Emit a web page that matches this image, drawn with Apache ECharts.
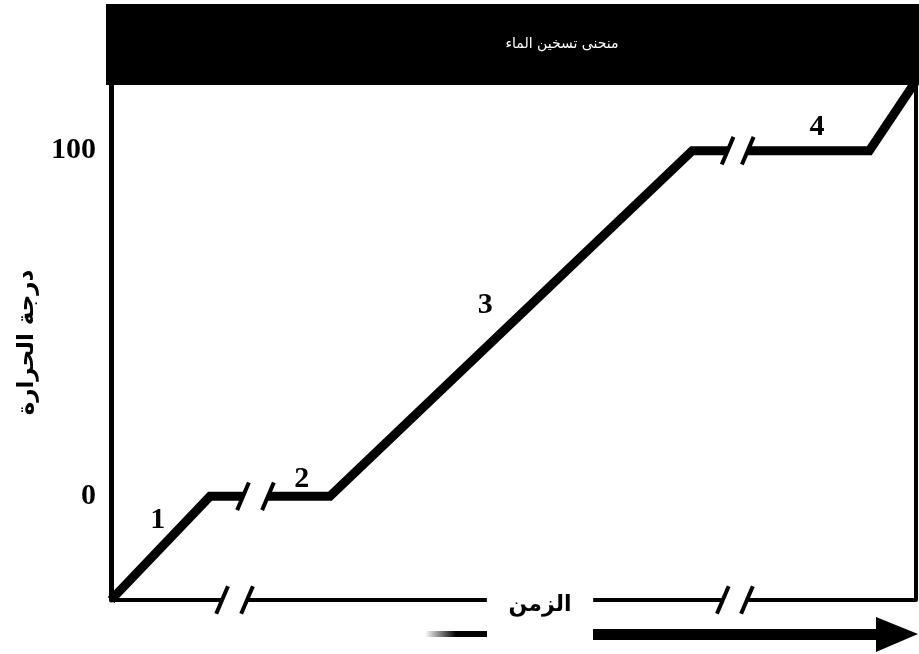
<!DOCTYPE html>
<html>
<head>
<meta charset="utf-8">
<script src="https://cdn.jsdelivr.net/npm/echarts@6/dist/echarts.min.js"></script>
<style>
html,body{margin:0;padding:0;background:#fff}
#chart{width:919px;height:654px}
</style>
</head>
<body>
<div id="chart"></div>
<script>
// منحنى تسخين الماء : [الزمن, درجة الحرارة]
var curveSegments = [
	[[0, -30], [12.3, 0], [16.4, 0]],
	[[19.5, 0], [27.2, 0], [72.2, 100], [76.6, 100]],
	[[79.1, 100], [94.2, 100], [100, 120.2]]
];
// محور الزمن (مقطوع)
var axisSegments = [[0, 13.8], [16.9, 46.7], [59.9, 76.0], [79.0, 100]];
var curveBreaks = [[16.4, 0], [19.5, 0], [76.6, 100], [79.1, 100]];
var axisBreaks = [[13.8, -30], [16.9, -30], [76.0, -30], [79.0, -30]];
var yTicks = [0, 100];
var phaseNames = ['1', '2', '3', '4'];
var phasePos = [[5.8, -6.9], [23.7, 5.0], [46.5, 55.4], [87.7, 106.9]];

var yMin = -30, yMax = 119;

var series = [];
//曲线
for (var i = 0; i < curveSegments.length; i++) {
	series.push({
		type: 'line',
		data: curveSegments[i],
		symbol: 'none',
		lineStyle: {color: '#000', width: 9, join: 'miter', cap: 'butt'},
		z: 3
	});
}
//x轴
for (var i = 0; i < axisSegments.length; i++) {
	series.push({
		type: 'line',
		data: [[axisSegments[i][0], yMin], [axisSegments[i][1], yMin]],
		symbol: 'none',
		clip: false,
		lineStyle: {color: '#000', width: 4, cap: 'butt'},
		z: 3
	});
}
//断开符号 //
series.push({
	type: 'scatter',
	data: curveBreaks.concat(axisBreaks),
	symbol: 'rect',
	symbolSize: [4, 30],
	symbolRotate: -23,
	itemStyle: {color: '#000', opacity: 1},
	clip: false,
	silent: true,
	z: 4
});
//阶段编号
var phaseData = [];
for (var i = 0; i < phaseNames.length; i++) {
	phaseData.push({name: phaseNames[i], value: phasePos[i]});
}
series.push({
	type: 'scatter',
	data: phaseData,
	symbolSize: 0,
	clip: false,
	itemStyle: {opacity: 1},
	label: {
		show: true,
		position: 'inside',
		formatter: '{b}',
		color: '#000',
		opacity: 1,
		fontFamily: 'Liberation Serif',
		fontWeight: 'bold',
		fontSize: 30
	},
	z: 5
});

var option = {
	backgroundColor: '#fff',
	animation: false,
	grid: {left: 111, right: 3, top: 85, bottom: 54},
	xAxis: {
		type: 'value',
		min: 0,
		max: 100,
		name: 'الزمن',
		nameLocation: 'middle',
		nameGap: -6,
		nameTextStyle: {
			color: '#000',
			fontFamily: 'DejaVu Sans',
			fontWeight: 'bold',
			fontSize: 22,
			padding: [0, 0, 0, 53]
		},
		axisLine: {show: false},
		axisTick: {show: false},
		axisLabel: {show: false},
		splitLine: {show: false}
	},
	yAxis: [{
		type: 'value',
		min: yMin,
		max: yMax,
		name: 'درجة الحرارة',
		nameLocation: 'middle',
		nameGap: 72,
		nameTextStyle: {
			color: '#000',
			fontFamily: 'DejaVu Sans',
			fontWeight: 'bold',
			fontSize: 23,
			padding: [0, 0, 0, 0]
		},
		axisLine: {show: true, lineStyle: {color: '#000', width: 5}},
		axisTick: {show: false},
		axisLabel: {
			customValues: yTicks,
			margin: 15,
			color: '#000',
			fontFamily: 'Liberation Serif',
			fontWeight: 'bold',
			fontSize: 30
		},
		splitLine: {show: false}
	}, {
		type: 'value',
		min: yMin,
		max: yMax,
		position: 'right',
		axisLine: {show: true, lineStyle: {color: '#000', width: 4}},
		axisTick: {show: false},
		axisLabel: {show: false},
		splitLine: {show: false}
	}],
	graphic: [
		{type: 'rect', shape: {x: 106, y: 4, width: 813, height: 81}, style: {fill: '#000'}, z: 50},
		{type: 'text', x: 562, y: 44, z: 51, style: {
			text: 'منحنى تسخين الماء', fill: '#fff', font: '14px "DejaVu Sans"',
			align: 'center', verticalAlign: 'middle'}},
		{type: 'rect', shape: {x: 425, y: 631, width: 62, height: 6},
			style: {fill: new echarts.graphic.LinearGradient(0, 0, 1, 0, [
				{offset: 0, color: 'rgba(0,0,0,0)'}, {offset: 0.5, color: '#000'}, {offset: 1, color: '#000'}])}, z: 50},
		{type: 'polygon', shape: {points: [[593, 629], [876, 629], [876, 617], [918, 634], [876, 652], [876, 640], [593, 640]]},
			style: {fill: '#000'}, z: 50}
	],
	series: series
};

var myChart = echarts.init(document.getElementById('chart'));
myChart.setOption(option);
</script>
</body>
</html>
